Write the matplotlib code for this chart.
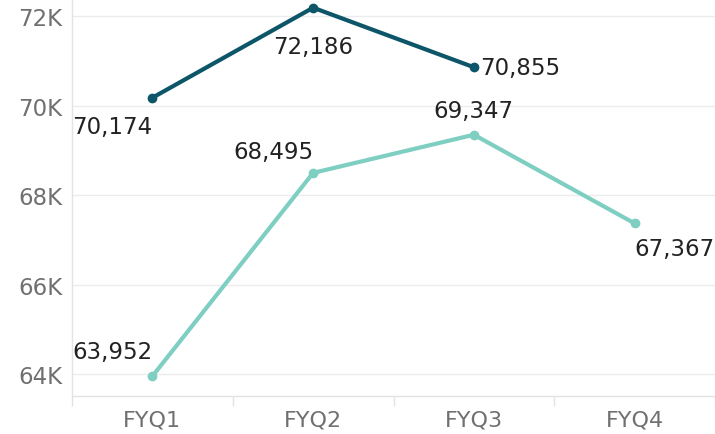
import matplotlib
matplotlib.use("Agg")
import matplotlib.pyplot as plt
from matplotlib.ticker import FuncFormatter, FixedLocator

# data
quarters = ["FYQ1", "FYQ2", "FYQ3", "FYQ4"]
dark_vals = [70174, 72186, 70855]
light_vals = [63952, 68495, 69347, 67367]

# label offsets (pixels) and alignment per point
dark_lbl = [((0, -17), "right", "top"), ((0, -27), "center", "top"), ((6, 0), "left", "center")]
light_lbl = [((0, 13), "right", "bottom"), ((0, 10), "right", "bottom"),
             ((0, 13), "center", "bottom"), ((0, -14), "left", "top")]

plt.rcParams['font.family'] = ['DejaVu Sans']

dark_c = "#0d5568"
light_c = "#7ecfc1"
grid_c = "#ececec"

fig = plt.figure(figsize=(7.15, 4.35), dpi=100)
ax = fig.add_axes([72 / 715, 38 / 435, 643 / 715, 397 / 435])

x_dark = range(len(dark_vals))
x_light = range(len(light_vals))
ax.plot(x_dark, dark_vals, color=dark_c, lw=3, marker="o", ms=6, solid_capstyle="round", zorder=3)
ax.plot(x_light, light_vals, color=light_c, lw=3, marker="o", ms=6, solid_capstyle="round", zorder=3)

for xs, vals, lbls in [(x_dark, dark_vals, dark_lbl), (x_light, light_vals, light_lbl)]:
    for x, v, (off, ha, va) in zip(xs, vals, lbls):
        ax.annotate(f"{v:,}", (x, v), xytext=off, textcoords="offset pixels",
                    ha=ha, va=va, fontsize=16.5, color="#222222")

ax.set_xlim(-0.5, 3.5)
ax.set_ylim(63510, 72380)
ax.set_yticks([64000, 66000, 68000, 70000, 72000])
ax.yaxis.set_major_formatter(FuncFormatter(lambda v, p: f"{int(v / 1000)}K"))
ax.set_xticks(range(4))
ax.set_xticklabels(quarters)
ax.xaxis.set_minor_locator(FixedLocator([-0.5, 0.5, 1.5, 2.5, 3.5]))

ax.tick_params(axis="y", length=0, pad=7, labelsize=16.5, labelcolor="#707070")
ax.tick_params(axis="x", which="major", length=0, pad=10, labelsize=16, labelcolor="#707070")
ax.tick_params(axis="x", which="minor", length=7, width=1, color="#e3e3e3")

ax.grid(axis="y", color=grid_c, lw=1)
ax.set_axisbelow(True)
for s in ["top", "right"]:
    ax.spines[s].set_visible(False)
for s in ["left", "bottom"]:
    ax.spines[s].set_color("#e3e3e3")
    ax.spines[s].set_linewidth(1)

fig.savefig("out.png", dpi=100)
